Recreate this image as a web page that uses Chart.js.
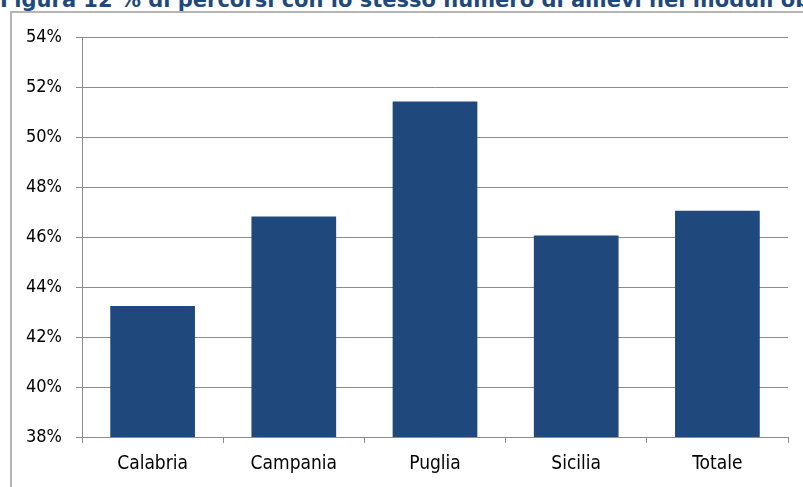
<!DOCTYPE html>
<html>
<head>
    <title>Figura 12</title>
    <script src="https://cdn.jsdelivr.net/npm/chart.js"></script>
    <style>
        html, body {
            margin: 0;
            padding: 0;
            background: #fff;
            width: 803px;
            height: 487px;
            overflow: hidden;
        }
        #title {
            position: absolute;
            left: 0;
            top: -11px;
            white-space: nowrap;
            font-family: "DejaVu Sans", sans-serif;
            font-weight: bold;
            font-size: 21px;
            line-height: 22px;
            color: #1F497D;
        }
        #frame {
            position: absolute;
            left: 10px;
            top: 11px;
            width: 800px;
            height: 480px;
            border-left: 2px solid #B4B4B4;
            border-top: 2px solid #B4B4B4;
        }
        #figure {
            position: absolute;
            left: 0;
            top: 0;
        }
    </style>
</head>
<body>
    <div id="title">Figura 12 % di percorsi con lo stesso numero di allievi nei moduli obbligatori</div>
    <div id="frame">
        <canvas id="figure" width="791" height="474"></canvas>
    </div>

    <script>
        // dati
        var regioni = ['Calabria', 'Campania', 'Puglia', 'Sicilia', 'Totale'];
        var percentuali = [43.25, 46.84, 51.45, 46.08, 47.07];
        var yMin = 38;
        var yMax = 54;
        var yStep = 2;

        var griglia = '#8C8C8C';
        var ctx = document.getElementById('figure').getContext('2d');

        new Chart(ctx, {
            type: 'bar',
            data: {
                labels: regioni,
                datasets: [{
                    data: percentuali,
                    backgroundColor: '#1F497D',
                    borderWidth: 0,
                    categoryPercentage: 1,
                    barPercentage: 0.6
                }]
            },
            options: {
                responsive: false,
                animation: false,
                layout: {
                    padding: { left: 0, right: 15, top: 22, bottom: 0 }
                },
                plugins: {
                    legend: { display: false },
                    tooltip: { enabled: false }
                },
                scales: {
                    x: {
                        grid: {
                            offset: true,
                            drawOnChartArea: false,
                            drawTicks: true,
                            tickLength: 6,
                            color: griglia
                        },
                        border: { color: griglia, width: 1 },
                        ticks: {
                            color: '#000',
                            padding: 10,
                            font: { family: 'DejaVu Sans Condensed', size: 19 }
                        },
                        afterFit: function (s) { s.height = 50; }
                    },
                    y: {
                        min: yMin,
                        max: yMax,
                        grid: {
                            color: griglia,
                            tickLength: 6
                        },
                        border: { color: griglia, width: 1 },
                        ticks: {
                            stepSize: yStep,
                            color: '#000',
                            padding: 14,
                            font: { family: 'DejaVu Sans Condensed', size: 18 },
                            callback: function (v) { return v + '%'; }
                        },
                        afterFit: function (s) { s.width = 70; }
                    }
                }
            }
        });
    </script>
</body>
</html>
